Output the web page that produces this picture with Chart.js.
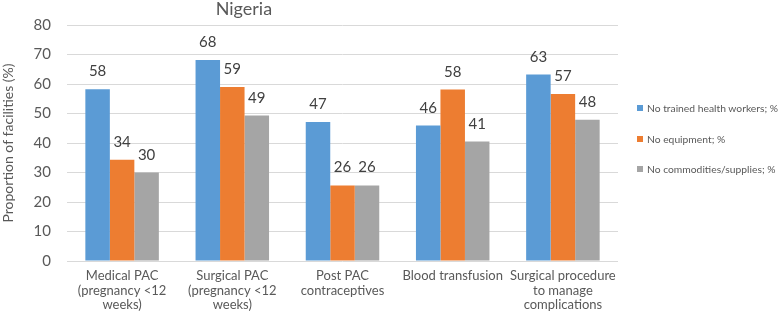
<!DOCTYPE html>
<html>
<head>
<meta charset="utf-8">
<script src="https://cdn.jsdelivr.net/npm/chart.js@4/dist/chart.umd.min.js"></script>
<style>
  html, body { margin: 0; padding: 0; background: #fff; }
  #wrap { position: relative; width: 780px; height: 315px; }
  #legend { position: absolute; left: 637px; top: 99px; font-family: Lato, "Open Sans", sans-serif; font-size: 10.3px; color: #595959; }
  .item { height: 18px; line-height: 18px; margin-bottom: 12.5px; white-space: nowrap; }
  .sw { display: inline-block; width: 6px; height: 6px; margin-right: 4px; vertical-align: 1px; }
</style>
</head>
<body>
<div id="wrap">
  <canvas id="c" width="780" height="315"></canvas>
  <div id="legend"></div>
</div>
<script>
const chartTitle = "Nigeria";
const yAxisTitle = "Proportion of facilities (%)";
const categories = [
  ["Medical PAC", "(pregnancy <12", "weeks)"],
  ["Surgical PAC", "(pregnancy <12", "weeks)"],
  ["Post PAC", "contraceptives"],
  ["Blood transfusion"],
  ["Surgical procedure", "to manage", "complications"]
];
const seriesNames = ["No trained health workers; %", "No equipment; %", "No commodities/supplies; %"];
const noTrainedWorkers = [58.2, 68.1, 47.1, 45.9, 63.2];
const noEquipment = [34.3, 59.0, 25.6, 58.1, 56.6];
const noCommodities = [30.0, 49.3, 25.6, 40.5, 47.9];
const yTicks = [0, 10, 20, 30, 40, 50, 60, 70, 80];
const colors = ["#5B9BD5", "#ED7D31", "#A5A5A5"];

const FONT = "Lato, 'Open Sans', sans-serif";
const TEXT = "#595959";

const valueLabels = {
  id: "valueLabels",
  afterDatasetsDraw(chart) {
    const ctx = chart.ctx;
    ctx.save();
    ctx.font = "15px " + FONT;
    ctx.fillStyle = "#404040";
    ctx.textAlign = "center";
    ctx.textBaseline = "alphabetic";
    chart.data.datasets.forEach((ds, di) => {
      const meta = chart.getDatasetMeta(di);
      meta.data.forEach((bar, i) => {
        ctx.fillText(String(Math.round(ds.data[i])), bar.x, bar.y - 13);
      });
    });
    ctx.restore();
  }
};

const titlePlugin = {
  id: "titleText",
  afterDraw(chart) {
    const ctx = chart.ctx;
    const a = chart.chartArea;
    ctx.save();
    ctx.font = "18px " + FONT;
    ctx.fillStyle = TEXT;
    ctx.textAlign = "center";
    ctx.textBaseline = "middle";
    ctx.fillText(chartTitle, a.left + (a.right - a.left) * 0.321, 9);
    ctx.restore();
  }
};

new Chart(document.getElementById("c"), {
  type: "bar",
  data: {
    labels: categories,
    datasets: [
      { label: seriesNames[0], data: noTrainedWorkers, backgroundColor: colors[0] },
      { label: seriesNames[1], data: noEquipment, backgroundColor: colors[1] },
      { label: seriesNames[2], data: noCommodities, backgroundColor: colors[2] }
    ]
  },
  options: {
    responsive: false,
    animation: false,
    devicePixelRatio: 1,
    layout: { padding: { left: 0, right: 162, top: 20, bottom: 0 } },
    datasets: { bar: { categoryPercentage: 0.667, barPercentage: 1.0 } },
    plugins: {
      legend: { display: false },
      title: { display: false },
      tooltip: { enabled: false }
    },
    scales: {
      x: {
        grid: { display: false, drawTicks: false },
        border: { display: false },
        ticks: { color: TEXT, font: { family: FONT, size: 13, lineHeight: 1.1 }, padding: 8, maxRotation: 0, autoSkip: false },
        afterFit(s) { s.height = 54; }
      },
      y: {
        min: 0, max: 80,
        afterBuildTicks(s) { s.ticks = yTicks.map(v => ({ value: v })); },
        grid: { color: "#D9D9D9", drawTicks: false },
        border: { display: false },
        ticks: { color: TEXT, font: { family: FONT, size: 15 }, padding: 16 },
        title: { display: true, text: yAxisTitle, color: TEXT, font: { family: FONT, size: 14 }, padding: { top: 0, bottom: 4 } },
        afterFit(s) { s.width = 67; }
      }
    }
  },
  plugins: [valueLabels, titlePlugin]
});

const lg = document.getElementById("legend");
seriesNames.forEach((n, i) => {
  const d = document.createElement("div");
  d.className = "item";
  const sw = document.createElement("span");
  sw.className = "sw";
  sw.style.background = colors[i];
  d.appendChild(sw);
  d.appendChild(document.createTextNode(n));
  lg.appendChild(d);
});
</script>
</body>
</html>
